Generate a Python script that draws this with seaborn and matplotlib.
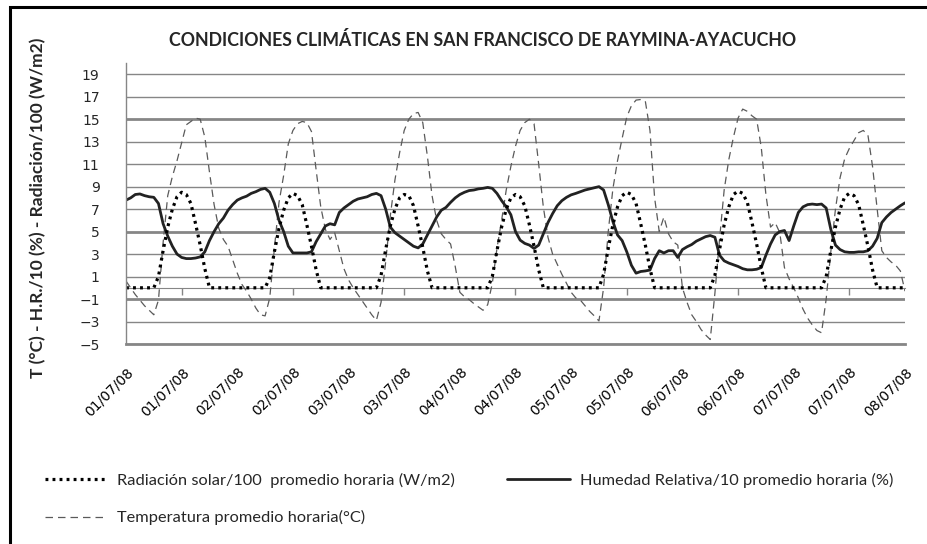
import numpy as np
import pandas as pd
import matplotlib
matplotlib.use("Agg")
import matplotlib.pyplot as plt
from matplotlib.patches import Rectangle
import seaborn as sns

# ---------------- data (hourly averages, 01/07/08 00h -> 08/07/08 00h) ----------------
radiacion = [
    0, 0, 0, 0, 0, 0, 0, 1.0, 3.3, 5.4, 7.0, 8.1, 8.5, 8.3, 7.5, 5.7, 3.8, 1.7, 0, 0, 0, 0, 0, 0,
    0, 0, 0, 0, 0, 0, 0, 0.9, 3.2, 5.3, 6.9, 8.0, 8.4, 8.2, 7.4, 5.6, 3.7, 1.6, 0, 0, 0, 0, 0, 0,
    0, 0, 0, 0, 0, 0, 0, 1.1, 3.4, 5.5, 7.0, 8.0, 8.3, 8.2, 7.3, 5.5, 3.6, 1.5, 0, 0, 0, 0, 0, 0,
    0, 0, 0, 0, 0, 0, 0, 1.0, 3.3, 5.4, 7.0, 8.0, 8.3, 8.1, 7.3, 5.6, 3.7, 1.6, 0, 0, 0, 0, 0, 0,
    0, 0, 0, 0, 0, 0, 0, 1.2, 3.5, 5.6, 7.2, 8.2, 8.5, 8.3, 7.5, 5.7, 3.8, 1.7, 0, 0, 0, 0, 0, 0,
    0, 0, 0, 0, 0, 0, 0, 1.1, 3.4, 5.6, 7.2, 8.3, 8.6, 8.4, 7.6, 5.8, 3.9, 1.8, 0, 0, 0, 0, 0, 0,
    0, 0, 0, 0, 0, 0, 0, 1.0, 3.3, 5.4, 7.0, 8.1, 8.4, 8.2, 7.4, 5.6, 3.7, 1.6, 0, 0, 0, 0, 0, 0,
    0,
]

humedad = [
    7.8, 8.0, 8.3, 8.35, 8.2, 8.1, 8.05, 7.5, 5.7, 4.6, 3.7, 3.0, 2.7, 2.6, 2.6, 2.65, 2.75, 3.2, 4.2, 5.0, 5.7, 6.2, 6.9, 7.4,
    7.8, 8.0, 8.15, 8.4, 8.55, 8.75, 8.85, 8.5, 7.5, 6.0, 5.0, 3.7, 3.1, 3.1, 3.1, 3.1, 3.2, 4.1, 4.8, 5.5, 5.7, 5.6, 6.7, 7.1,
    7.4, 7.7, 7.9, 8.0, 8.1, 8.3, 8.4, 8.2, 7.0, 5.4, 4.9, 4.6, 4.3, 4.0, 3.7, 3.55, 3.9, 4.7, 5.5, 6.3, 6.9, 7.15, 7.6, 8.0,
    8.3, 8.5, 8.65, 8.7, 8.8, 8.85, 8.93, 8.85, 8.4, 7.76, 7.2, 6.5, 5.0, 4.24, 3.95, 3.8, 3.5, 3.8, 4.8, 5.8, 6.6, 7.3, 7.75, 8.05,
    8.27, 8.4, 8.55, 8.7, 8.8, 8.9, 9.0, 8.7, 7.4, 5.9, 4.7, 4.2, 3.2, 2.0, 1.3, 1.45, 1.5, 1.58, 2.6, 3.3, 3.1, 3.3, 3.3, 2.7,
    3.4, 3.65, 3.85, 4.15, 4.35, 4.55, 4.65, 4.5, 2.9, 2.4, 2.2, 2.05, 1.9, 1.7, 1.6, 1.6, 1.65, 1.8, 2.9, 3.9, 4.7, 5.0, 5.1, 4.2,
    5.5, 6.7, 7.2, 7.4, 7.45, 7.4, 7.45, 7.1, 5.2, 3.8, 3.4, 3.2, 3.15, 3.15, 3.2, 3.2, 3.3, 3.7, 4.4, 5.8, 6.3, 6.7, 7.0, 7.3,
    7.56,
]

temperatura = [
    0.6, 0.0, -0.6, -1.1, -1.6, -2.0, -2.4, -1.1, 4.0, 8.2, 9.9, 11.3, 12.9, 14.5, 14.8, 15.1, 15.0, 13.4, 10.3, 7.4, 5.3, 4.3, 3.7, 2.5,
    1.3, 0.3, -0.3, -1.0, -1.8, -2.4, -2.5, -0.9, 3.5, 7.6, 10.0, 12.8, 14.0, 14.6, 14.8, 14.7, 13.9, 10.5, 7.2, 5.2, 4.3, 4.9, 3.3, 1.7,
    0.7, 0.0, -0.6, -1.2, -1.8, -2.4, -2.9, -1.3, 2.3, 6.4, 9.6, 12.0, 14.0, 15.0, 15.5, 15.6, 14.7, 11.7, 8.2, 6.0, 4.8, 4.3, 3.9, 1.9,
    -0.4, -0.8, -1.05, -1.4, -1.7, -2.0, -1.5, 0.4, 3.5, 6.0, 8.7, 10.8, 12.6, 14.0, 14.7, 15.0, 14.6, 11.0, 7.2, 4.5, 3.0, 2.1, 1.2, 0.4,
    -0.4, -0.9, -1.1, -1.6, -2.1, -2.5, -2.95, 0.0, 5.0, 8.8, 11.3, 13.3, 15.2, 16.2, 16.7, 16.75, 16.6, 14.0, 8.0, 5.0, 6.3, 4.8, 4.1, 3.8,
    0.0, -1.3, -2.4, -3.0, -3.7, -4.2, -4.6, -0.5, 4.3, 8.7, 11.4, 13.4, 15.1, 15.9, 15.7, 15.3, 15.0, 12.5, 8.3, 5.4, 5.8, 4.9, 1.8, 0.8,
    0.0, -0.9, -1.9, -2.7, -3.3, -3.8, -4.0, -1.0, 3.2, 7.0, 9.8, 11.5, 12.4, 13.1, 13.8, 14.0, 13.6, 10.8, 7.0, 3.3, 2.7, 2.3, 2.0, 1.5,
    -0.3,
]

etiquetas_x = ["01/07/08", "01/07/08", "02/07/08", "02/07/08", "03/07/08", "03/07/08",
               "04/07/08", "04/07/08", "05/07/08", "05/07/08", "06/07/08", "06/07/08",
               "07/07/08", "07/07/08", "08/07/08"]
yticks = list(range(-5, 20, 2))

titulo = "CONDICIONES CLIMÁTICAS EN SAN FRANCISCO DE RAYMINA-AYACUCHO"
ylabel = "T (°C) - H.R./10 (%) - Radiación/100 (W/m2)"
lab_rad = "Radiación solar/100  promedio horaria (W/m2)"
lab_hum = "Humedad Relativa/10 promedio horaria (%)"
lab_temp = "Temperatura promedio horaria(°C)"

# ---------------- figure ----------------
sns.set_style("white")
plt.rcParams["font.family"] = ["DejaVu Sans"]

GRAY = "#868686"
W, H = 927, 544
fig = plt.figure(figsize=(W / 100, H / 100), dpi=100)
ax = fig.add_axes([126 / W, 1 - 344 / H, (905 - 126) / W, (344 - 63) / H])

df = pd.DataFrame({"hora": np.arange(len(radiacion)), "rad": radiacion,
                   "hum": humedad, "temp": temperatura})

sns.lineplot(data=df, x="hora", y="temp", ax=ax, color="#5a5a5a", lw=0.9,
             linestyle=(0, (6, 4)), label=lab_temp)
sns.lineplot(data=df, x="hora", y="hum", ax=ax, color="#222222", lw=2.0,
             label=lab_hum)
sns.lineplot(data=df, x="hora", y="rad", ax=ax, color="black", lw=2.3,
             linestyle=(0, (0.9, 1.3)), label=lab_rad)

if ax.get_legend() is not None:
    ax.get_legend().remove()

ax.set_xlim(0, len(radiacion) - 1)
ax.set_ylim(-5, 20)
ax.set_yticks(yticks)
ax.set_xticks(np.arange(0, len(radiacion), 12))
ax.set_xticklabels(etiquetas_x, rotation=45, ha="right", rotation_mode="anchor")
ax.set_xlabel("")
ax.set_ylabel("")

ax.grid(axis="y", color=GRAY, lw=1.0)
for gl, v in zip(ax.get_ygridlines(), yticks):
    if v in (-1, 5, 15):
        gl.set_linewidth(2.0)
ax.tick_params(axis="x", length=0, pad=15, labelsize=10, colors="black")
ax.tick_params(axis="y", direction="out", length=5, width=1, color=GRAY,
               pad=14, labelsize=10)
for s in ("top", "right"):
    ax.spines[s].set_visible(False)
ax.spines["left"].set_color(GRAY)
ax.spines["left"].set_linewidth(1.0)
ax.spines["bottom"].set_color(GRAY)
ax.spines["bottom"].set_linewidth(2.0)

# category axis crossing at zero with day tick marks
ylo, yhi = ax.get_ylim()
sec = ax.secondary_xaxis((0 - ylo) / (yhi - ylo))
sec.set_xticks(np.arange(12, len(radiacion), 24))
sec.tick_params(direction="out", length=5, width=1, color=GRAY,
                labelbottom=False, labeltop=False)
for s in sec.spines.values():
    s.set_color(GRAY)
    s.set_linewidth(0.8)

fig.text(483 / W, 1 - 40 / H, titulo, ha="center", va="center",
         fontsize=12.8, fontweight="bold", family="Lato")
fig.text(38 / W, 1 - 208 / H, ylabel, rotation=90, ha="center", va="center",
         fontsize=12.5, fontweight="bold", family="Lato")

fig.patches.append(Rectangle((10 / W, -0.2), 1.5, 1.2 - 7 / H,
                             transform=fig.transFigure, fill=False,
                             edgecolor="black", lw=2.2))

handles, labels = ax.get_legend_handles_labels()
hd = dict(zip(labels, handles))
fig.legend([hd[lab_rad], hd[lab_temp], hd[lab_hum]], [lab_rad, lab_temp, lab_hum],
           ncol=2, loc="upper left", bbox_to_anchor=(45 / W, 1 - 473 / H),
           frameon=False, prop={"family": "Lato", "size": 11.8},
           handlelength=3.8, handletextpad=0.6, columnspacing=3.2,
           labelspacing=1.35, borderpad=0, borderaxespad=0)

fig.savefig("out.png", dpi=100)
